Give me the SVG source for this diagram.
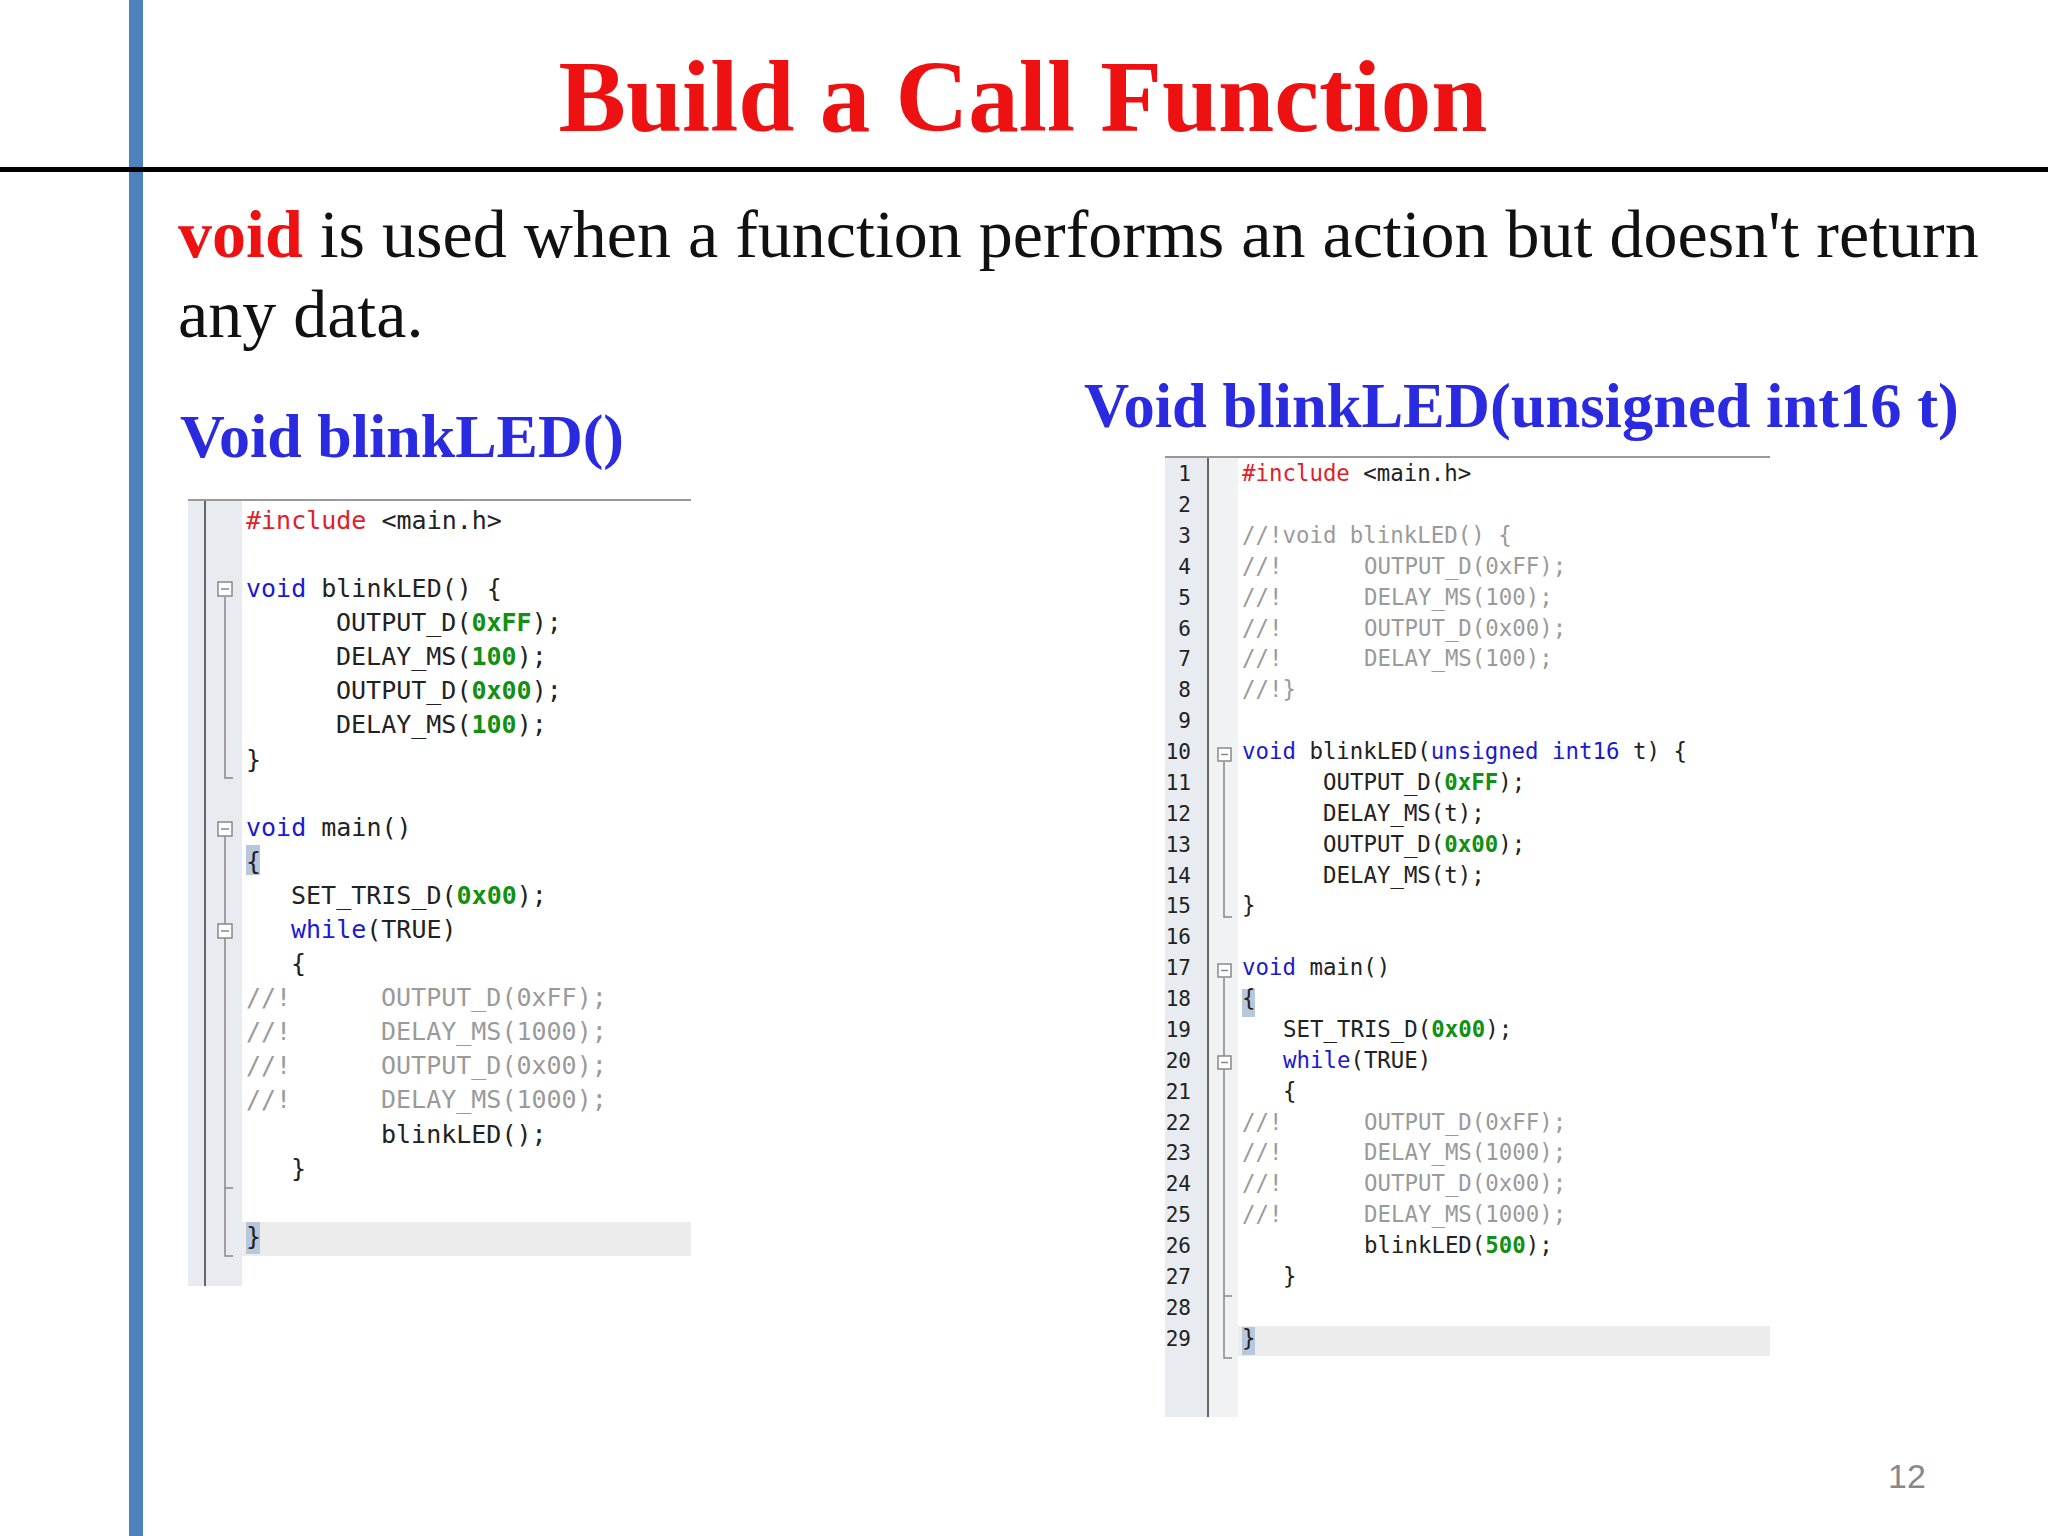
<svg xmlns="http://www.w3.org/2000/svg" width="2048" height="1536" viewBox="0 0 2048 1536">
<style>
.L{font-family:"DejaVu Sans Mono",monospace;font-size:25px;fill:#222}
.R{font-family:"DejaVu Sans Mono",monospace;font-size:22.4px;fill:#222}
.k{fill:#1a1ad0}.r{fill:#e3202a}.n{fill:#119011;font-weight:bold}.c{fill:#9a9a9a}
.num{font-family:"DejaVu Sans Mono",monospace;font-size:21px;fill:#222;text-anchor:end}
.h{font-family:"Liberation Serif",serif;font-weight:bold;fill:#2a2ae0}
.fold{fill:#fff;stroke:#888;stroke-width:1.5}
.fl{stroke:#888;stroke-width:1.5;fill:none}
</style>
<rect width="2048" height="1536" fill="#fff"/>
<rect x="129" y="0" width="14" height="1536" fill="#4f81bd"/>
<rect x="0" y="167" width="2048" height="5" fill="#000"/>
<g id="title"><text x="1023" y="131" text-anchor="middle" font-family="Liberation Serif,serif" font-weight="bold" font-size="101" fill="#ee1111">Build a Call Function</text></g>
<g id="body" font-family="Liberation Serif,serif" font-size="68" fill="#111">
<text x="178" y="257"><tspan fill="#ee1111" font-weight="bold">void</tspan> is used when a function performs an action but doesn't return</text>
<text x="178" y="337">any data.</text>
</g>
<g id="h1"><text class="h" x="180" y="457" font-size="62">Void blinkLED()</text></g>
<g id="h2"><text class="h" x="1084" y="427" font-size="62.5">Void blinkLED(unsigned int16 t)</text></g>

<g id="left-code">
<rect x="188" y="500" width="54" height="786" fill="#e8ebf0"/>
<line x1="205" y1="500" x2="205" y2="1286" stroke="#666" stroke-width="2"/>
<line x1="188" y1="500" x2="691" y2="500" stroke="#999" stroke-width="2"/>
<rect x="242" y="1222" width="449" height="34" fill="#ececec"/>
<rect x="246" y="845" width="14" height="30" fill="#b8c8dc"/>
<rect x="246" y="1222" width="14" height="32" fill="#b8c8dc"/>
<path class="fl" d="M225 597V778H233M225 836V1256H233M225 938V1188H233"/>
<rect class="fold" x="218" y="582" width="14" height="14"/>
<rect class="fold" x="218" y="822" width="14" height="14"/>
<rect class="fold" x="218" y="924" width="14" height="14"/>
<path class="fl" d="M221 589H229M221 829H229M221 931H229"/>
<g class="L">
<text x="246" y="529"><tspan class="r">#include</tspan> &lt;main.h&gt;</text>
<text x="246" y="597"><tspan class="k">void</tspan> blinkLED() {</text>
<text x="336" y="631">OUTPUT_D(<tspan class="n">0xFF</tspan>);</text>
<text x="336" y="665">DELAY_MS(<tspan class="n">100</tspan>);</text>
<text x="336" y="699">OUTPUT_D(<tspan class="n">0x00</tspan>);</text>
<text x="336" y="733">DELAY_MS(<tspan class="n">100</tspan>);</text>
<text x="246" y="768">}</text>
<text x="246" y="836"><tspan class="k">void</tspan> main()</text>
<text x="246" y="870">{</text>
<text x="291" y="904">SET_TRIS_D(<tspan class="n">0x00</tspan>);</text>
<text x="291" y="938"><tspan class="k">while</tspan>(TRUE)</text>
<text x="291" y="972">{</text>
<text x="246" y="1006" class="c">//!</text><text x="381" y="1006" class="c">OUTPUT_D(0xFF);</text>
<text x="246" y="1040" class="c">//!</text><text x="381" y="1040" class="c">DELAY_MS(1000);</text>
<text x="246" y="1074" class="c">//!</text><text x="381" y="1074" class="c">OUTPUT_D(0x00);</text>
<text x="246" y="1108" class="c">//!</text><text x="381" y="1108" class="c">DELAY_MS(1000);</text>
<text x="381" y="1143">blinkLED();</text>
<text x="291" y="1177">}</text>
<text x="246" y="1245">}</text>
</g>
</g>

<g id="right-code">
<rect x="1165" y="457" width="43" height="960" fill="#e8ebf0"/>
<rect x="1208" y="457" width="30" height="960" fill="#f1f2f4"/>
<line x1="1208" y1="457" x2="1208" y2="1417" stroke="#666" stroke-width="2"/>
<line x1="1165" y1="457" x2="1770" y2="457" stroke="#999" stroke-width="2"/>
<rect x="1238" y="1326" width="532" height="30" fill="#ececec"/>
<rect x="1242" y="989" width="13" height="28" fill="#b8c8dc"/>
<rect x="1242" y="1327" width="13" height="28" fill="#b8c8dc"/>
<path class="fl" d="M1224 762V917H1232M1224 978V1358H1232M1224 1070V1296H1232"/>
<rect class="fold" x="1218" y="748" width="13" height="13"/>
<rect class="fold" x="1218" y="964" width="13" height="13"/>
<rect class="fold" x="1218" y="1056" width="13" height="13"/>
<path class="fl" d="M1221 754.5H1228M1221 970.5H1228M1221 1062.5H1228"/>
<g class="num">
<text x="1191" y="481">1</text><text x="1191" y="512">2</text><text x="1191" y="543">3</text><text x="1191" y="574">4</text><text x="1191" y="605">5</text><text x="1191" y="636">6</text><text x="1191" y="666">7</text><text x="1191" y="697">8</text><text x="1191" y="728">9</text><text x="1191" y="759">10</text><text x="1191" y="790">11</text><text x="1191" y="821">12</text><text x="1191" y="852">13</text><text x="1191" y="883">14</text><text x="1191" y="913">15</text><text x="1191" y="944">16</text><text x="1191" y="975">17</text><text x="1191" y="1006">18</text><text x="1191" y="1037">19</text><text x="1191" y="1068">20</text><text x="1191" y="1099">21</text><text x="1191" y="1130">22</text><text x="1191" y="1160">23</text><text x="1191" y="1191">24</text><text x="1191" y="1222">25</text><text x="1191" y="1253">26</text><text x="1191" y="1284">27</text><text x="1191" y="1315">28</text><text x="1191" y="1346">29</text>
</g>
<g class="R">
<text x="1242" y="481"><tspan class="r">#include</tspan> &lt;main.h&gt;</text>
<text x="1242" y="543" class="c">//!void blinkLED() {</text>
<text x="1242" y="574" class="c">//!</text><text x="1364" y="574" class="c">OUTPUT_D(0xFF);</text>
<text x="1242" y="605" class="c">//!</text><text x="1364" y="605" class="c">DELAY_MS(100);</text>
<text x="1242" y="636" class="c">//!</text><text x="1364" y="636" class="c">OUTPUT_D(0x00);</text>
<text x="1242" y="666" class="c">//!</text><text x="1364" y="666" class="c">DELAY_MS(100);</text>
<text x="1242" y="697" class="c">//!}</text>
<text x="1242" y="759"><tspan class="k">void</tspan> blinkLED(<tspan class="k">unsigned</tspan> <tspan class="k">int16</tspan> t) {</text>
<text x="1323" y="790">OUTPUT_D(<tspan class="n">0xFF</tspan>);</text>
<text x="1323" y="821">DELAY_MS(t);</text>
<text x="1323" y="852">OUTPUT_D(<tspan class="n">0x00</tspan>);</text>
<text x="1323" y="883">DELAY_MS(t);</text>
<text x="1242" y="913">}</text>
<text x="1242" y="975"><tspan class="k">void</tspan> main()</text>
<text x="1242" y="1006">{</text>
<text x="1283" y="1037">SET_TRIS_D(<tspan class="n">0x00</tspan>);</text>
<text x="1283" y="1068"><tspan class="k">while</tspan>(TRUE)</text>
<text x="1283" y="1099">{</text>
<text x="1242" y="1130" class="c">//!</text><text x="1364" y="1130" class="c">OUTPUT_D(0xFF);</text>
<text x="1242" y="1160" class="c">//!</text><text x="1364" y="1160" class="c">DELAY_MS(1000);</text>
<text x="1242" y="1191" class="c">//!</text><text x="1364" y="1191" class="c">OUTPUT_D(0x00);</text>
<text x="1242" y="1222" class="c">//!</text><text x="1364" y="1222" class="c">DELAY_MS(1000);</text>
<text x="1364" y="1253">blinkLED(<tspan class="n">500</tspan>);</text>
<text x="1283" y="1284">}</text>
<text x="1242" y="1346">}</text>
</g>
</g>
<g id="page"><text x="1907" y="1488" text-anchor="middle" font-family="Liberation Sans,sans-serif" font-size="34" fill="#888">12</text></g>
</svg>
